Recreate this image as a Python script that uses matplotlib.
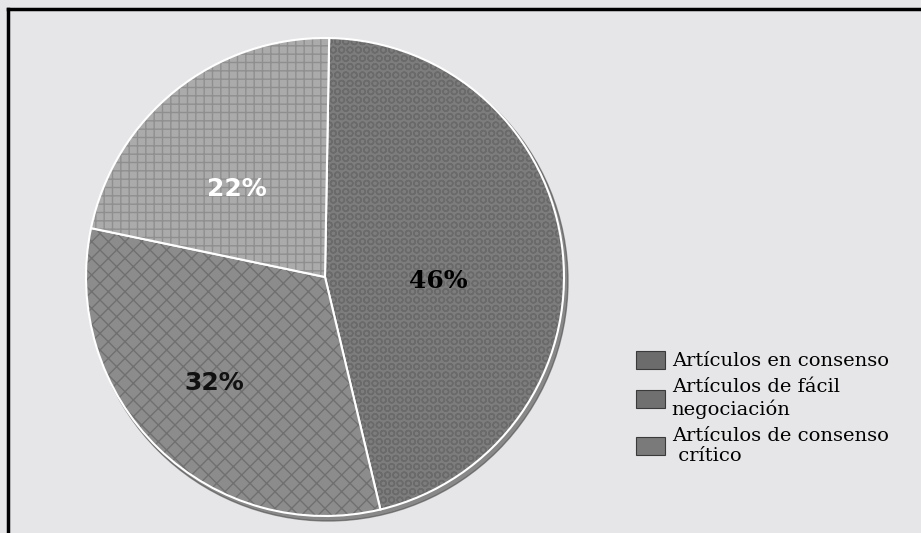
import matplotlib
matplotlib.use("Agg")
import matplotlib.pyplot as plt
from matplotlib.patches import Circle, Patch
from matplotlib.lines import Line2D

# datos del gráfico
categorias = ['Artículos en consenso',
              'Artículos de fácil\nnegociación',
              'Artículos de consenso\n crítico']
valores = [46, 32, 22]
etiquetas = ['46%', '32%', '22%']

colores = ['#7d7d7d', '#8c8c8c', '#ababab']
tramas = ['OO', 'xx', '++']
color_trama = ['#6a6a6a', '#707070', '#8f8f8f']
color_leyenda = ['#6c6c6c', '#707070', '#7a7a7a']

W, H = 921, 533
fig = plt.figure(figsize=(W / 100, H / 100), dpi=100)
fig.patch.set_facecolor('#e6e6e8')
ax = fig.add_axes([0, 0, 1, 1])

cx, cy, r = 325, H - 277, 239

# sombra del pastel
ax.add_patch(Circle((cx + 3, cy - 4), r + 1, color='#4a4a4a', alpha=0.6, zorder=1))

wedges, _ = ax.pie(valores, colors=colores, startangle=89, counterclock=False,
                   center=(cx, cy), radius=r, frame=True,
                   wedgeprops=dict(edgecolor='white', linewidth=1.5))
for w, h, hc in zip(wedges, tramas, color_trama):
    w.set_hatch(h)
    w.set_zorder(2)
    w._hatch_color = matplotlib.colors.to_rgba(hc)
ax.set_xlim(0, W)
ax.set_ylim(0, H)
ax.axis('off')

# etiquetas de porcentaje
ax.text(438, H - 281, etiquetas[0], fontsize=18, fontweight='bold', family='DejaVu Serif',
        color='black', ha='center', va='center', zorder=5)
ax.text(214, H - 383, etiquetas[1], fontsize=18, fontweight='bold', family='DejaVu Sans',
        color='#111111', ha='center', va='center', zorder=5)
ax.text(237, H - 189, etiquetas[2], fontsize=18, fontweight='bold', family='DejaVu Sans',
        color='white', ha='center', va='center', zorder=5)

# leyenda
handles = [Patch(facecolor=c, edgecolor='#3a3a3a', linewidth=0.8) for c in color_leyenda]
leg = ax.legend(handles, categorias, loc='upper left', bbox_to_anchor=(628 / W, 1 - 343 / H),
                frameon=False, prop=dict(family='DejaVu Serif', size=14),
                handlelength=1.5, handleheight=1.05, handletextpad=0.35,
                labelspacing=0.4, borderaxespad=0)

# marco
ax.add_line(Line2D([8, W], [H - 9, H - 9], color='black', linewidth=2.5, zorder=10))
ax.add_line(Line2D([8, 8], [0, H - 9], color='black', linewidth=2.5, zorder=10))

fig.savefig('out.png', dpi=100, facecolor=fig.get_facecolor())
